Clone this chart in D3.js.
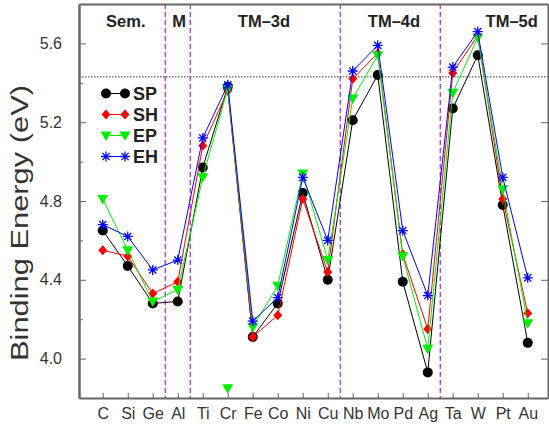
<!DOCTYPE html>
<html>
<head>
<meta charset="utf-8">
<script src="https://cdn.jsdelivr.net/npm/d3@7"></script>
<style>
  body { margin: 0; background: #fff; }
  svg { display: block; font-family: "Liberation Sans", Arial, sans-serif; }
</style>
</head>
<body>
<div id="chart"></div>
<script>
// element categories along x
const elements = ['C', 'Si', 'Ge', 'Al', 'Ti', 'Cr', 'Fe', 'Co', 'Ni', 'Cu', 'Nb', 'Mo', 'Pd', 'Ag', 'Ta', 'W', 'Pt', 'Au'];

// binding energies (eV) per series
const sp = [4.65, 4.47, 4.28, 4.29, 4.97, 5.38, 4.11, 4.28, 4.84, 4.40, 5.21, 5.44, 4.39, 3.93, 5.27, 5.54, 4.78, 4.08];
const sh = [4.55, 4.52, 4.33, 4.39, 5.08, 5.36, 4.11, 4.22, 4.81, 4.44, 5.42, 5.55, 4.53, 4.15, 5.45, 5.64, 4.81, 4.23];
const ep = [4.81, 4.55, 4.29, 4.35, 4.92, 5.37, 4.16, 4.37, 4.94, 4.50, 5.32, 5.54, 4.52, 4.05, 5.35, 5.63, 4.86, 4.18];
const eh = [4.68, 4.62, 4.45, 4.50, 5.12, 5.39, 4.19, 4.31, 4.92, 4.60, 5.46, 5.59, 4.65, 4.32, 5.48, 5.66, 4.92, 4.41];

// lone EP marker drawn at Cr
const epExtra = [{el: 'Cr', v: 3.85}];

// group separators (between categories) and group titles
const dividers = [3.5, 4.5, 10.5, 14.5];
const groupNames = ['Sem.', 'M', 'TM\u20133d', 'TM\u20134d', 'TM\u20135d'];
const groupPos = [1.92, 4.05, 7.45, 12.65, 17.36];

const refLine = 5.43;
const yTicks = [4.0, 4.4, 4.8, 5.2, 5.6];
const yMinor = [4.2, 4.6, 5.0, 5.4];

const width = 549, height = 424;
const margin = {top: 4, right: 1, bottom: 26, left: 79};

const svg = d3.select('#chart').append('svg')
    .attr('width', width)
    .attr('height', height);

const x = d3.scaleLinear().domain([0.05, 18.81]).range([margin.left, width - margin.right]);
const y = d3.scaleLinear().domain([3.8, 5.8]).range([height - margin.bottom, margin.top]);
const xi = el => x(elements.indexOf(el) + 1);

const series = [
    {name: 'SP', values: sp, color: '#000000', symbol: 'circle'},
    {name: 'SH', values: sh, color: '#ff0000', symbol: 'diamond'},
    {name: 'EP', values: ep, color: '#00f000', symbol: 'triangle'},
    {name: 'EH', values: eh, color: '#0000ff', symbol: 'star'}
];

// draw a marker of given kind centered at 0,0
function marker(g, kind, color) {
    if (kind === 'circle') {
        g.append('circle').attr('r', 5).attr('fill', color);
    } else if (kind === 'diamond') {
        g.append('path').attr('d', 'M0,-5L4.5,0L0,5L-4.5,0Z').attr('fill', color);
    } else if (kind === 'triangle') {
        g.append('path').attr('d', 'M-5.5,-4L5.5,-4L0,5.5Z').attr('fill', color);
    } else {
        g.append('path')
            .attr('d', 'M-5,0L5,0M0,-5L0,5M-3.6,-3.6L3.6,3.6M-3.6,3.6L3.6,-3.6')
            .attr('stroke', color).attr('stroke-width', 1.3).attr('fill', 'none');
    }
}

// dividers
svg.selectAll('.divider').data(dividers).enter().append('line')
    .attr('x1', d => x(d)).attr('x2', d => x(d))
    .attr('y1', y(5.8)).attr('y2', y(3.8))
    .attr('stroke', '#a020e0').attr('stroke-width', 1.2)
    .attr('stroke-dasharray', '5,3');

// dotted reference line
svg.append('line')
    .attr('x1', x(0.05)).attr('x2', x(18.81))
    .attr('y1', y(refLine)).attr('y2', y(refLine))
    .attr('stroke', '#333').attr('stroke-width', 1)
    .attr('stroke-dasharray', '1.5,1.5');

// group titles
svg.selectAll('.group').data(groupNames).enter().append('text')
    .attr('x', (d, i) => x(groupPos[i]))
    .attr('y', 27)
    .attr('text-anchor', 'middle')
    .attr('font-weight', 'bold')
    .attr('font-size', 16.5)
    .attr('fill', '#222')
    .text(d => d);

// series lines and markers
series.forEach(s => {
    svg.append('path')
        .datum(s.values)
        .attr('fill', 'none')
        .attr('stroke', s.color)
        .attr('stroke-width', 1)
        .attr('d', d3.line().x((d, i) => x(i + 1)).y(d => y(d)));
    s.values.forEach((v, i) => {
        const g = svg.append('g').attr('transform', 'translate(' + x(i + 1) + ',' + y(v) + ')');
        marker(g, s.symbol, s.color);
    });
});

epExtra.forEach(p => {
    const g = svg.append('g').attr('transform', 'translate(' + xi(p.el) + ',' + y(p.v) + ')');
    marker(g, 'triangle', '#00f000');
});

// legend
const legend = svg.append('g');
series.forEach((s, i) => {
    const ly = 93.5 + i * 21;
    legend.append('line')
        .attr('x1', 106).attr('x2', 125).attr('y1', ly).attr('y2', ly)
        .attr('stroke', s.color).attr('stroke-width', 1);
    [106, 125].forEach(lx => {
        const g = legend.append('g').attr('transform', 'translate(' + lx + ',' + ly + ')');
        marker(g, s.symbol, s.color);
    });
    legend.append('text')
        .attr('x', 133).attr('y', ly + 6.5)
        .attr('font-weight', 'bold')
        .attr('font-size', 18)
        .attr('fill', '#222')
        .text(s.name);
});

// axes
const frameColor = '#666';
svg.append('g').attr('transform', 'translate(' + margin.left + ',0)')
    .call(d3.axisLeft(y).tickValues(yTicks).tickSizeInner(-7).tickSizeOuter(0).tickPadding(17).tickFormat(d3.format('.1f')));
svg.append('g').attr('transform', 'translate(' + margin.left + ',0)')
    .call(d3.axisLeft(y).tickValues(yMinor).tickSizeInner(-4).tickSizeOuter(0).tickFormat(''));
svg.append('g').attr('transform', 'translate(' + (width - margin.right) + ',0)')
    .call(d3.axisRight(y).tickValues(yTicks).tickSizeInner(-7).tickSizeOuter(0).tickFormat(''));
svg.append('g').attr('transform', 'translate(0,' + (height - margin.bottom) + ')')
    .call(d3.axisBottom(x).tickValues(d3.range(1, elements.length + 1)).tickSizeInner(-5).tickSizeOuter(0).tickPadding(10)
        .tickFormat(d => elements[d - 1]));
svg.append('g').attr('transform', 'translate(0,' + margin.top + ')')
    .call(d3.axisTop(x).tickValues([]).tickSizeOuter(0));

svg.selectAll('.domain').attr('stroke', frameColor).attr('stroke-width', 2);
svg.selectAll('.tick line').attr('stroke', frameColor).attr('stroke-width', 1);
svg.selectAll('.tick text')
    .attr('font-size', 16)
    .attr('fill', '#333')
    .attr('font-family', '"Liberation Sans", Arial, sans-serif');

// y axis title
svg.append('text')
    .attr('transform', 'translate(28,223) rotate(-90)')
    .attr('text-anchor', 'middle')
    .attr('font-size', 23)
    .attr('textLength', 276)
    .attr('lengthAdjust', 'spacingAndGlyphs')
    .attr('fill', '#333')
    .text('Binding Energy (eV)');
</script>
</body>
</html>
